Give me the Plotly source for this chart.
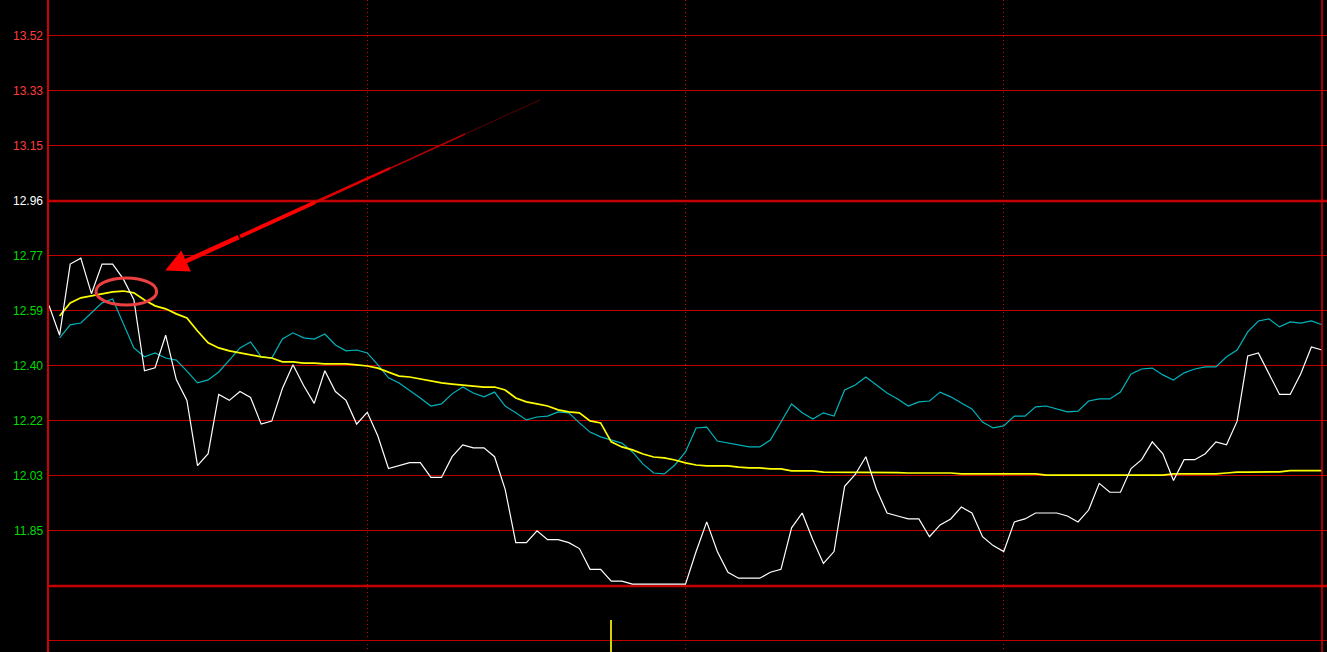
import plotly.graph_objects as go

# ---------------- data ----------------
# time axis: minutes since open, sampled every 2 minutes (240-minute session)
minutes = list(range(0, 241, 2))

price = [
    12.61, 12.51, 12.75, 12.77, 12.65, 12.75, 12.75, 12.70, 12.63, 12.39,
    12.40, 12.51, 12.36, 12.29, 12.07, 12.11, 12.31, 12.29, 12.32, 12.30,
    12.21, 12.22, 12.33, 12.41, 12.34, 12.28, 12.39, 12.32, 12.29, 12.21,
    12.25, 12.17, 12.06, 12.07, 12.08, 12.08, 12.03, 12.03, 12.10, 12.14,
    12.13, 12.13, 12.10, 11.99, 11.81, 11.81, 11.85, 11.82, 11.82, 11.81,
    11.79, 11.72, 11.72, 11.68, 11.68, 11.67, 11.67, 11.67, 11.67, 11.67,
    11.67, 11.78, 11.88, 11.78, 11.71, 11.69, 11.69, 11.69, 11.71, 11.72,
    11.86, 11.91, 11.82, 11.74, 11.78, 12.00, 12.04, 12.10, 11.99, 11.91,
    11.90, 11.89, 11.89, 11.83, 11.87, 11.89, 11.93, 11.91, 11.83, 11.80,
    11.78, 11.88, 11.89, 11.91, 11.91, 11.91, 11.90, 11.88, 11.92, 12.01,
    11.98, 11.98, 12.06, 12.09, 12.15, 12.11, 12.02, 12.09, 12.09, 12.11,
    12.15, 12.14, 12.22, 12.44, 12.45, 12.38, 12.31, 12.31, 12.38, 12.47,
    12.46,
]

avg_price = [
    None, 12.575, 12.619, 12.636, 12.642, 12.649, 12.656, 12.659, 12.653, 12.629,
    12.609, 12.599, 12.582, 12.568, 12.524, 12.484, 12.467, 12.457, 12.450, 12.443,
    12.437, 12.433, 12.420, 12.420, 12.416, 12.416, 12.413, 12.413, 12.413, 12.410,
    12.406, 12.399, 12.386, 12.372, 12.369, 12.362, 12.356, 12.349, 12.345, 12.342,
    12.339, 12.335, 12.335, 12.325, 12.298, 12.285, 12.278, 12.271, 12.258, 12.251,
    12.248, 12.221, 12.214, 12.150, 12.133, 12.123, 12.109, 12.099, 12.096, 12.089,
    12.079, 12.072, 12.069, 12.069, 12.069, 12.065, 12.062, 12.062, 12.059, 12.059,
    12.052, 12.052, 12.052, 12.048, 12.048, 12.048, 12.046, 12.046, 12.046, 12.046,
    12.046, 12.045, 12.045, 12.045, 12.045, 12.045, 12.042, 12.042, 12.042, 12.042,
    12.042, 12.042, 12.042, 12.042, 12.038, 12.038, 12.038, 12.038, 12.038, 12.038,
    12.038, 12.038, 12.038, 12.038, 12.038, 12.038, 12.042, 12.042, 12.042, 12.042,
    12.042, 12.045, 12.048, 12.048, 12.049, 12.049, 12.049, 12.053, 12.053, 12.053,
    12.053,
]

lead_line = [
    None, 12.501, 12.545, 12.551, 12.585, 12.619, 12.632, 12.548, 12.467, 12.437,
    12.450, 12.433, 12.426, 12.389, 12.349, 12.359, 12.386, 12.426, 12.467, 12.487,
    12.437, 12.433, 12.497, 12.518, 12.501, 12.497, 12.514, 12.477, 12.457, 12.460,
    12.450, 12.410, 12.366, 12.349, 12.325, 12.298, 12.271, 12.278, 12.312, 12.335,
    12.315, 12.302, 12.318, 12.271, 12.248, 12.224, 12.234, 12.237, 12.251, 12.248,
    12.214, 12.183, 12.167, 12.156, 12.146, 12.116, 12.075, 12.045, 12.042, 12.072,
    12.116, 12.197, 12.200, 12.153, 12.146, 12.140, 12.133, 12.133, 12.156, 12.217,
    12.278, 12.248, 12.227, 12.248, 12.237, 12.325, 12.342, 12.369, 12.342, 12.315,
    12.295, 12.271, 12.285, 12.288, 12.318, 12.302, 12.281, 12.261, 12.217, 12.197,
    12.204, 12.237, 12.237, 12.268, 12.271, 12.261, 12.251, 12.254, 12.288, 12.295,
    12.295, 12.318, 12.379, 12.396, 12.399, 12.376, 12.359, 12.383, 12.396, 12.403,
    12.403, 12.437, 12.460, 12.521, 12.558, 12.565, 12.538, 12.555, 12.551, 12.558,
    12.545,
]

vol_time = [106]
vol_value = [49]

prev_close = 12.963
price_step = 0.1856
grid_steps = list(range(-8, 4))          # gridline index relative to prev close
label_steps = [3, 2, 1, 0, -1, -2, -3, -4, -5, -6]
label_texts = ["13.52", "13.33", "13.15", "12.96", "12.77",
               "12.59", "12.40", "12.22", "12.03", "11.85"]

# ---------------- figure ----------------
RED_GRID = "#c00000"
y_min, y_max = 11.441, 13.641
session_end = 240
x_max = session_end * 1278 / 1273

fig = go.Figure()
fig.add_trace(go.Bar(x=vol_time, y=vol_value, yaxis="y2", width=0.35,
                     marker=dict(color="#d8d000", line=dict(width=0)),
                     hoverinfo="skip"))
fig.add_trace(go.Scatter(x=minutes, y=lead_line, mode="lines",
                         line=dict(color="#00b4bc", width=1.2)))
fig.add_trace(go.Scatter(x=minutes, y=avg_price, mode="lines",
                         line=dict(color="#ffff00", width=1.7)))
fig.add_trace(go.Scatter(x=minutes, y=price, mode="lines",
                         line=dict(color="#ffffff", width=1.2)))

grid_levels = [prev_close + k * price_step for k in grid_steps]

shapes = []
# thick reference lines (prev close and lower panel border)
for k in (0, -7):
    shapes.append(dict(type="line", xref="paper", yref="y", x0=0, x1=1,
                       y0=prev_close + k * price_step, y1=prev_close + k * price_step,
                       line=dict(color="#c80000", width=2.5), layer="between"))
# right border of session
shapes.append(dict(type="line", xref="x", yref="paper", x0=session_end, x1=session_end,
                   y0=0, y1=1, line=dict(color="#d00000", width=1.5)))
# highlight ellipse
shapes.append(dict(type="circle", xref="x", yref="y", x0=8.86, x1=20.3,
                   y0=12.612, y1=12.703, line=dict(color="#ee4040", width=3)))

# arrow with fading tail
tail = (92.6, 13.304)
tip = (21.9, 12.728)
def along(t):
    return (tail[0] + (tip[0] - tail[0]) * t, tail[1] + (tip[1] - tail[1]) * t)
seg_t = [0.0, 0.2, 0.4, 0.6, 0.8]
seg_w = [0.8, 1.6, 2.6, 3.8]
seg_c = ["#700000", "#b00000", "#e00000", "#ff0000"]
for i in range(4):
    a, b = along(seg_t[i]), along(seg_t[i + 1])
    shapes.append(dict(type="line", xref="x", yref="y", x0=a[0], y0=a[1],
                       x1=b[0], y1=b[1], line=dict(color=seg_c[i], width=seg_w[i])))

annotations = []
head_start = along(0.8)
annotations.append(dict(x=tip[0], y=tip[1], ax=head_start[0], ay=head_start[1],
                        xref="x", yref="y", axref="x", ayref="y", text="",
                        showarrow=True, arrowhead=2, arrowsize=1.0,
                        arrowwidth=4.6, arrowcolor="#ff0000"))

for k, txt in zip(label_steps, label_texts):
    if k > 0:
        col = "#ff3c3c"
    elif k == 0:
        col = "#ffffff"
    else:
        col = "#00dc00"
    annotations.append(dict(x=0, xref="paper", xanchor="right", xshift=-4,
                            y=prev_close + k * price_step, yref="y", yanchor="middle",
                            text=txt, showarrow=False,
                            font=dict(family="Liberation Sans, Arial", size=12, color=col)))

fig.update_layout(
    width=1327, height=652,
    margin=dict(l=49, r=0, t=0, b=0),
    paper_bgcolor="#000000", plot_bgcolor="#000000",
    showlegend=False,
    xaxis=dict(range=[0, x_max], tickvals=[60, 120, 180], showgrid=True,
               gridcolor="#e00000", gridwidth=1, griddash="1px,3px",
               showticklabels=False, zeroline=False, showline=False, ticks=""),
    yaxis=dict(range=[y_min, y_max], tickvals=grid_levels, showgrid=True,
               gridcolor=RED_GRID, gridwidth=1, showticklabels=False,
               zeroline=False, showline=True, linecolor="#d00000", linewidth=1.5,
               ticks=""),
    yaxis2=dict(overlaying="y", range=[0, 1000], anchor="x",
                showgrid=False, showticklabels=False, zeroline=False, showline=False),
    shapes=shapes,
    annotations=annotations,
    bargap=0,
)

fig.write_html(
    "out.html",
    config={"displayModeBar": False},
    post_script="document.body.style.margin='0';document.body.style.overflow='hidden';"
                "document.body.style.background='#000';",
)
